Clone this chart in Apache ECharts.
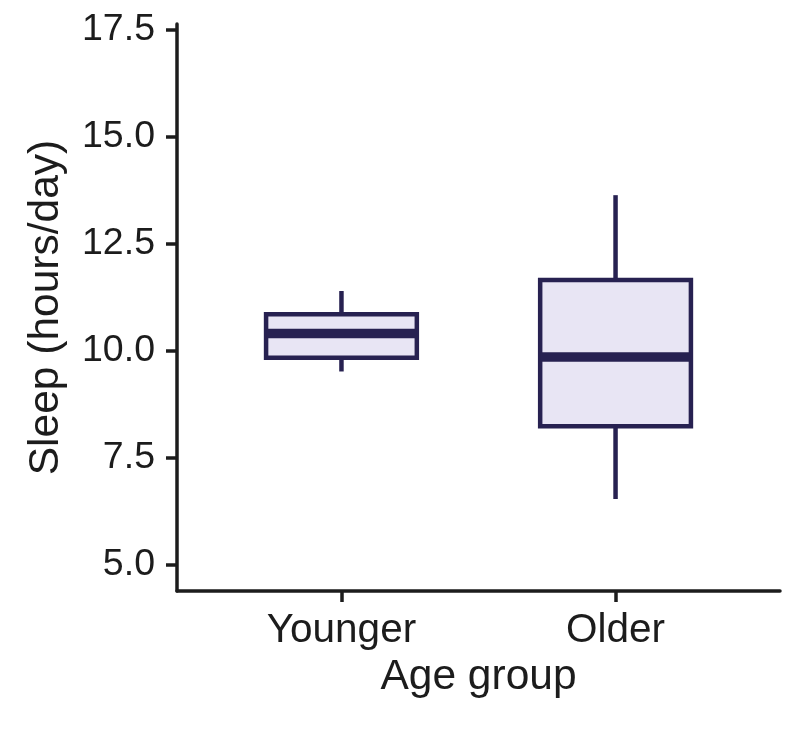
<!DOCTYPE html>
<html>
<head>
<meta charset="utf-8">
<script src="https://cdn.jsdelivr.net/npm/echarts@6/dist/echarts.min.js"></script>
<style>
  html, body { margin: 0; padding: 0; background: #fff; }
  #main { width: 806px; height: 729px; }
</style>
</head>
<body>
<div id="main"></div>
<script>
// groups on the x axis (placed at 1, 2)
var groups = ['Younger', 'Older'];
var groupPos = [1, 2];
// box stats: min whisker, Q1, median, Q3, max whisker
var whiskerLow = [9.52, 6.54];
var q1 = [9.84, 8.24];
var median = [10.41, 9.86];
var q3 = [10.86, 11.66];
var whiskerHigh = [11.40, 13.64];
// y tick labels
var yTicks = [5.0, 7.5, 10.0, 12.5, 15.0, 17.5];

var myChart = echarts.init(document.getElementById('main'));

var stroke = '#272151';
var fill = '#e8e5f4';
var halfW = 0.275; // half box width in x units
var textColor = '#1c1c1c';
var fontFam = '"Liberation Sans", Arial, sans-serif';

// rows for the custom series
var boxData = groups.map(function(g, i) {
	return [groupPos[i], whiskerLow[i], q1[i], median[i], q3[i], whiskerHigh[i]];
});

function renderBox(params, api) {
	var x = api.value(0);
	var pLow = api.coord([x, api.value(1)]);
	var pQ1 = api.coord([x, api.value(2)]);
	var pMed = api.coord([x, api.value(3)]);
	var pQ3 = api.coord([x, api.value(4)]);
	var pHigh = api.coord([x, api.value(5)]);
	var left = api.coord([x - halfW, api.value(3)])[0];
	var right = api.coord([x + halfW, api.value(3)])[0];
	var lineStyle = { stroke: stroke, lineWidth: 4.5, fill: null };
	return {
		type: 'group',
		children: [{
			type: 'line', // upper whisker
			shape: { x1: pQ3[0], y1: pQ3[1], x2: pHigh[0], y2: pHigh[1] },
			style: lineStyle
		}, {
			type: 'line', // lower whisker
			shape: { x1: pQ1[0], y1: pQ1[1], x2: pLow[0], y2: pLow[1] },
			style: lineStyle
		}, {
			type: 'rect',
			shape: { x: left, y: pQ3[1], width: right - left, height: pQ1[1] - pQ3[1] },
			style: { fill: fill, stroke: stroke, lineWidth: 4.5 }
		}, {
			type: 'line', // median
			shape: { x1: left, y1: pMed[1], x2: right, y2: pMed[1] },
			style: { stroke: stroke, lineWidth: 9.5 }
		}]
	};
}

var option = {
	backgroundColor: '#fff',
	animation: false,
	grid: {
		left: 177,
		right: 26,
		top: 24,
		bottom: 138
	},
	xAxis: {
		type: 'value',
		min: 0.4,
		max: 2.6,
		name: 'Age group',
		nameLocation: 'middle',
		nameGap: 57,
		nameTextStyle: { color: textColor, fontSize: 42.5, fontFamily: fontFam },
		splitLine: { show: false },
		axisLine: { lineStyle: { color: textColor, width: 3.5 } },
		axisTick: {
			customValues: groupPos,
			length: 11,
			lineStyle: { color: textColor, width: 3.5 }
		},
		axisLabel: {
			customValues: groupPos,
			margin: 19,
			color: textColor,
			fontSize: 40.5,
			fontFamily: fontFam,
			formatter: function(v) {
				var idx = groupPos.indexOf(v);
				return idx >= 0 ? groups[idx] : '';
			}
		}
	},
	yAxis: {
		type: 'value',
		min: 4.39,
		max: 17.64,
		name: 'Sleep (hours/day)',
		nameLocation: 'middle',
		nameGap: 109,
		nameRotate: 90,
		nameTextStyle: { color: textColor, fontSize: 42.5, fontFamily: fontFam },
		splitLine: { show: false },
		axisLine: { show: true, lineStyle: { color: textColor, width: 3.5 } },
		axisTick: {
			show: true,
			customValues: yTicks,
			length: 11,
			lineStyle: { color: textColor, width: 3.5 }
		},
		axisLabel: {
			customValues: yTicks,
			margin: 22,
			color: textColor,
			fontSize: 37.5,
			fontFamily: fontFam,
			formatter: function(v) { return v.toFixed(1); }
		}
	},
	series: [{
		type: 'custom',
		renderItem: renderBox,
		encode: { x: 0, y: [1, 2, 3, 4, 5] },
		data: boxData
	}]
};

myChart.setOption(option);
</script>
</body>
</html>
